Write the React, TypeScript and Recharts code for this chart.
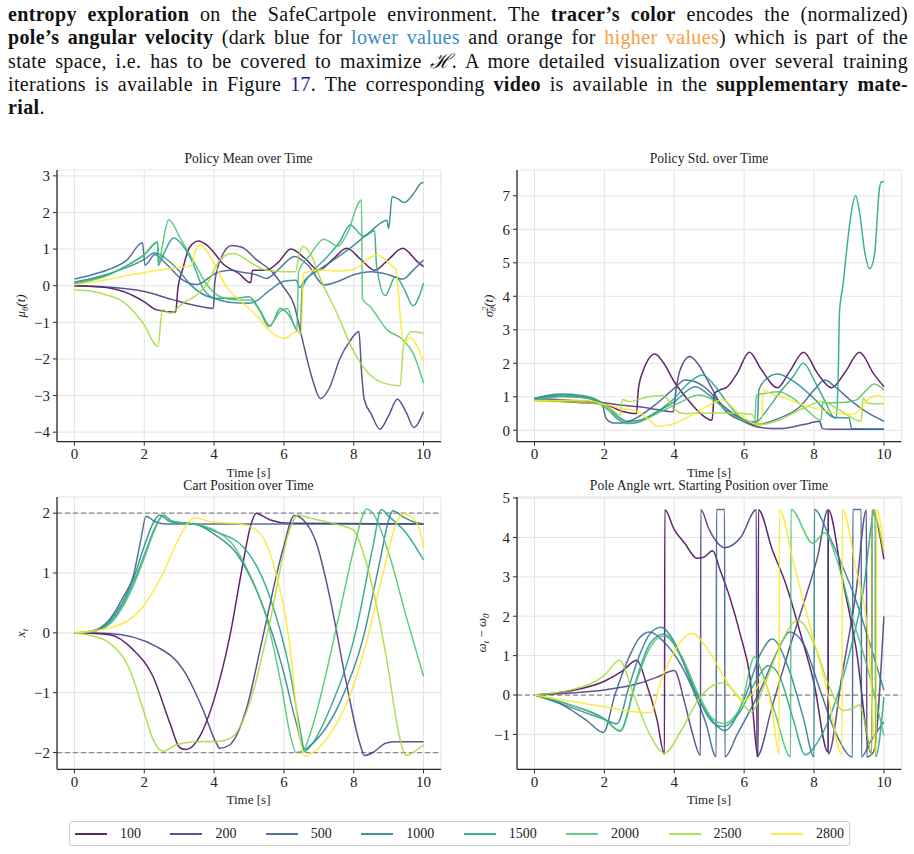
import React from 'react';
import { LineChart, Line, XAxis, YAxis, CartesianGrid, ReferenceLine } from 'recharts';

type Pt = [number, number];

const FONT = '"Liberation Serif", "DejaVu Serif", serif';

// training iterations shown as separate traces (viridis colour map)
const ITERATIONS = ['100', '200', '500', '1000', '1500', '2000', '2500', '2800'];
const COLORS = ['#440154', '#46327e', '#365c8d', '#277f8e', '#1fa187', '#4ac16d', '#a0da39', '#fde725'];

const TIME_TICKS = [0, 2, 4, 6, 8, 10];
const MEAN_TICKS = [-4, -3, -2, -1, 0, 1, 2, 3];
const STD_TICKS = [0, 1, 2, 3, 4, 5, 6, 7];
const CART_TICKS = [-2, -1, 0, 1, 2];
const ANGLE_TICKS = [-1, 0, 1, 2, 3, 4, 5];
const CART_LIMITS = [-2, 2];
const ANGLE_REF = [0];

// ---- policy mean mu_theta(t): [time s, value] ----
const MEAN_100: Pt[] = [[0,0],[0.5,-0.02],[1,-0.06],[1.4,-0.16],[2,-0.44],[2.35,-0.66],[2.9,-0.72],[2.96,-0.1],[3.1,0.45],[3.3,1.05],[3.55,1.22],[3.8,1.1],[4,0.9],[4.25,0.6],[4.7,0.34],[5.05,0.08],[5.1,0.42],[5.5,0.42],[5.85,0.65],[6.2,1.0],[6.6,0.75],[7,0.42],[7.4,0.72],[7.8,1.02],[8.2,0.72],[8.6,0.42],[9,0.72],[9.4,1.02],[9.8,0.68],[10,0.52]];
const MEAN_200: Pt[] = [[0,0],[1,-0.04],[2,-0.16],[2.8,-0.38],[3.5,-0.55],[3.98,-0.62],[4.02,0.1],[4.2,0.75],[4.5,1.1],[4.8,1.05],[5.2,0.72],[5.7,0.34],[6,-0.05],[6.3,-0.55],[6.5,-1.35],[6.8,-2.5],[7.05,-3.08],[7.3,-2.8],[7.6,-2.0],[7.9,-1.5],[8.15,-1.25],[8.22,-2.3],[8.3,-3.1],[8.5,-3.5],[8.75,-3.92],[9,-3.55],[9.25,-3.1],[9.5,-3.45],[9.72,-3.87],[10,-3.44]];
const MEAN_500: Pt[] = [[0,0.18],[0.5,0.3],[1,0.45],[1.5,0.7],[1.95,1.17],[2.02,0.56],[2.1,0.62],[2.3,0.85],[2.6,0.62],[3.1,0.16],[3.5,0.03],[4.05,0.34],[4.45,0.42],[4.85,0.36],[5.2,0.3],[5.5,0.2],[5.85,0.45],[6.3,0.8],[6.7,0.55],[7.15,0.02],[7.5,0.1],[8,0.3],[8.5,0.38],[9,0.3],[9.4,0.18],[9.7,0.42],[10,0.7]];
const MEAN_1000: Pt[] = [[0,0.1],[0.5,0.2],[1,0.33],[1.5,0.5],[2,0.72],[2.3,0.9],[2.6,0.75],[3,0.4],[3.3,0.05],[3.65,-0.22],[4.05,-0.36],[4.5,-0.46],[5,-0.48],[5.2,-0.42],[5.6,-0.12],[6,0.12],[6.35,0.15],[6.45,-0.05],[6.6,0.15],[7,0.43],[7.5,0.75],[8,1.1],[8.5,1.5],[8.95,1.79],[9,1.56],[9.1,2.43],[9.25,2.38],[9.45,2.27],[9.7,2.5],[9.95,2.81],[10,2.82]];
const MEAN_1500: Pt[] = [[0,0.08],[0.5,0.18],[1,0.32],[1.5,0.55],[2,0.85],[2.38,1.18],[2.4,0.55],[2.5,0.75],[2.85,1.3],[3.1,1.1],[3.4,0.6],[3.7,-0.1],[4.05,-0.34],[4.6,-0.34],[5,-0.3],[5.3,-0.65],[5.6,-1.1],[5.9,-0.62],[6.1,-0.75],[6.47,-1.3],[6.52,-0.1],[6.8,0.35],[7.2,0.75],[7.6,1.2],[7.9,1.66],[8.28,1.35],[8.6,1.5],[8.65,0.6],[8.9,-0.27],[9.2,0.25],[9.45,-0.1],[9.7,-0.55],[10,0.07]];
const MEAN_2000: Pt[] = [[0,0.05],[0.5,0.15],[1,0.3],[1.5,0.55],[2,0.85],[2.38,1.2],[2.42,0.6],[2.5,1.0],[2.7,1.8],[3.03,1.3],[3.42,0.65],[3.8,0.02],[4.18,-0.3],[4.66,-0.39],[5.04,-0.39],[5.32,-0.71],[5.56,-1.12],[5.9,-0.7],[6.09,-0.62],[6.37,-1.2],[6.42,0.38],[6.75,0.84],[7.14,1.27],[7.55,1.08],[7.8,1.4],[8.22,2.34],[8.25,-0.35],[8.5,-0.6],[8.95,-1.2],[9.4,-1.47],[9.7,-1.84],[10,-2.66]];
const MEAN_2500: Pt[] = [[0,-0.12],[0.5,-0.15],[0.9,-0.25],[1.4,-0.44],[1.97,-1.03],[2.39,-1.66],[2.52,-0.66],[2.75,-0.75],[3.1,-0.48],[3.5,-0.25],[3.87,0.16],[4.06,0.55],[4.4,0.86],[4.56,0.88],[5.1,0.6],[5.5,0.42],[6,0.38],[6.33,0.38],[6.45,0.9],[6.55,1.08],[6.8,0.8],[7.04,0.2],[7.5,-0.71],[8,-1.8],[8.38,-2.35],[8.86,-2.66],[9.33,-2.73],[9.43,-1.62],[9.67,-1.25],[10,-1.3]];
const MEAN_2800: Pt[] = [[0,0.02],[0.9,0.16],[1.87,0.34],[2.73,0.47],[3.35,0.55],[3.45,0.9],[3.59,1.11],[3.97,0.66],[4.35,-0.03],[4.73,-0.39],[5.2,-0.8],[5.5,-1.15],[6,-1.44],[6.38,-1.25],[6.5,-1.3],[6.56,0.34],[7.04,0.43],[7.6,0.4],[8,0.45],[8.67,0.84],[9.14,0.5],[9.2,0.45],[9.43,-1.57],[9.62,-1.42],[10,-2.08]];

// ---- policy variance sigma^2_theta(t) ----
const STD_100: Pt[] = [[0,0.9],[0.5,0.88],[1,0.85],[1.5,0.82],[2,0.78],[2.5,0.57],[2.92,0.5],[2.97,1.2],[3.1,1.75],[3.45,2.28],[3.7,2.0],[4,1.45],[4.4,0.9],[4.7,0.55],[5.08,0.3],[5.15,1.1],[5.3,1.2],[5.5,1.28],[5.8,1.7],[6.15,2.33],[6.5,1.8],[6.95,1.27],[7.3,1.75],[7.7,2.33],[8.1,1.7],[8.5,1.27],[8.9,1.75],[9.3,2.33],[9.7,1.7],[10,1.3]];
const STD_200: Pt[] = [[0,0.95],[0.5,0.93],[1,0.9],[1.5,0.87],[2,0.82],[2.5,0.75],[3,0.7],[3.5,0.62],[3.97,0.55],[4.05,1.2],[4.15,1.75],[4.45,2.2],[4.7,1.95],[5.02,1.36],[5.4,0.66],[5.97,0.27],[6.5,0.08],[7,0.05],[7.7,0.17],[8.16,0.27],[8.24,0.05],[8.5,0.03],[10,0.03]];
const STD_500: Pt[] = [[0,0.95],[0.4,1.0],[0.8,1.02],[1.3,1.0],[1.7,0.9],[1.95,0.72],[2.05,0.35],[2.25,0.22],[2.5,0.22],[3,0.42],[3.5,0.8],[4,1.25],[4.31,1.5],[4.6,1.45],[4.84,1.31],[5.41,0.72],[5.98,0.32],[6.36,0.17],[6.9,0.32],[7.6,0.71],[8,1.2],[8.31,1.5],[8.6,1.3],[9.03,0.91],[9.5,0.55],[10,0.27]];
const STD_1000: Pt[] = [[0,0.95],[0.4,1.05],[0.8,1.08],[1.3,1.05],[1.7,0.95],[2.1,0.7],[2.4,0.4],[2.65,0.27],[3,0.3],[3.5,0.55],[4,0.85],[4.6,1.3],[5,1.05],[5.5,0.6],[6,0.3],[6.38,0.25],[6.42,1.2],[6.6,1.5],[6.95,1.68],[7.5,1.4],[8,0.95],[8.6,0.38],[9,0.37],[9.08,0.05],[9.5,0.04],[10,0.04]];
const STD_1500: Pt[] = [[0,0.95],[0.4,1.03],[0.8,1.05],[1.3,1.02],[1.7,0.92],[2.1,0.62],[2.4,0.32],[2.7,0.2],[3,0.25],[3.5,0.55],[4,0.95],[4.4,1.4],[4.8,1.65],[5.1,1.4],[5.5,0.85],[6,0.3],[6.3,0.22],[6.65,0.6],[7,1.1],[7.4,1.6],[7.7,2.0],[8,1.5],[8.3,0.9],[8.6,0.37],[8.64,0.37],[8.69,1.56],[8.73,3.55],[8.83,4.34],[8.92,5.24],[9.07,6.53],[9.19,7.0],[9.3,6.53],[9.45,5.33],[9.59,4.82],[9.73,5.24],[9.87,7.2],[9.92,7.42],[10,7.42]];
const STD_2000: Pt[] = [[0,0.92],[0.4,0.98],[0.8,1.0],[1.3,0.98],[1.7,0.9],[2.1,0.62],[2.4,0.38],[2.7,0.22],[3.2,0.35],[3.7,0.6],[4.2,0.85],[4.7,1.05],[5.2,0.85],[5.6,0.5],[6,0.28],[6.3,0.22],[6.35,1.05],[6.6,1.1],[7,1.15],[7.4,0.95],[7.8,0.6],[8.2,0.3],[8.25,0.82],[8.8,0.83],[9.2,0.9],[9.5,1.2],[9.72,1.38],[10,1.2]];
const STD_2500: Pt[] = [[0,0.88],[0.5,0.86],[1,0.85],[1.5,0.82],[2,0.75],[2.3,0.55],[2.45,0.45],[2.52,0.92],[2.7,0.86],[3.3,1.01],[3.7,1.04],[3.97,0.66],[4.3,0.5],[4.83,0.52],[5.5,0.52],[6.2,0.48],[6.45,0.17],[6.92,0.27],[7.69,0.66],[8.25,0.86],[8.64,0.66],[9.35,0.27],[9.4,0.96],[9.54,0.81],[10,0.79]];
const STD_2800: Pt[] = [[0,0.88],[1,0.9],[1.5,0.88],[2,0.78],[2.5,0.65],[2.92,0.57],[3.3,0.3],[3.5,0.12],[3.9,0.17],[4.4,0.4],[4.83,0.66],[5.4,0.91],[5.78,0.57],[6.35,0.17],[6.5,0.14],[6.54,1.21],[6.73,1.11],[7.2,0.95],[7.69,0.76],[8.64,0.52],[9.11,0.47],[9.59,0.96],[9.83,1.04],[10,0.99]];

// ---- cart position x_t ----
const CART_100: Pt[] = [[0,0],[1,-0.03],[1.68,-0.28],[2.25,-0.73],[2.73,-1.5],[3.02,-1.92],[3.2,-1.95],[3.59,-1.73],[3.97,-1.17],[4.45,-0.06],[4.83,1.17],[5.05,1.8],[5.21,2.0],[5.4,1.95],[5.59,1.89],[6.16,1.83],[10,1.82]];
const CART_200: Pt[] = [[0,0],[1,-0.01],[2.35,-0.23],[3.11,-0.61],[3.68,-1.28],[4.06,-1.84],[4.16,-1.93],[4.45,-1.87],[4.92,-1.28],[5.4,-0.06],[5.97,1.39],[6.3,1.96],[6.55,1.89],[6.93,1.5],[7.31,0.61],[7.79,-0.84],[8.17,-1.84],[8.31,-2.05],[8.55,-2.0],[8.93,-1.84],[9.22,-1.82],[10,-1.82]];
const CART_500: Pt[] = [[0,0],[0.5,0.03],[1,0.22],[1.4,0.6],[1.68,0.94],[1.9,1.55],[2.05,1.95],[2.3,1.86],[2.6,1.82],[10,1.82]];
const CART_1000: Pt[] = [[0,0],[0.5,0.02],[1,0.19],[1.68,0.89],[2,1.45],[2.25,1.83],[2.44,1.97],[2.73,1.86],[3.49,1.81],[4,1.65],[4.64,1.33],[5.4,0.44],[5.97,-0.61],[6.35,-1.5],[6.59,-1.95],[6.74,-1.89],[7.6,-1.17],[8.26,-0.11],[8.74,1.17],[9.03,1.94],[9.12,2.04],[9.41,1.94],[9.69,1.86],[10,1.82]];
const CART_1500: Pt[] = [[0,0],[0.5,0.02],[1,0.16],[1.68,0.82],[2,1.3],[2.3,1.75],[2.54,1.97],[2.8,1.86],[3.5,1.81],[4,1.7],[4.83,1.44],[5.59,0.61],[6.16,-0.61],[6.5,-1.73],[6.59,-1.98],[6.75,-1.9],[7.31,-1.28],[8.07,0.05],[8.55,1.44],[8.79,2.06],[9,1.95],[9.5,1.67],[10,1.22]];
const CART_2000: Pt[] = [[0,0],[0.5,0.02],[1,0.14],[1.68,0.78],[2,1.25],[2.3,1.72],[2.54,1.96],[2.8,1.87],[3.5,1.81],[4,1.72],[4.5,1.5],[5,1.0],[5.5,0.25],[5.9,-0.8],[6.2,-1.75],[6.35,-2.0],[6.55,-1.97],[6.8,-1.6],[7.2,-0.7],[7.6,0.35],[8,1.4],[8.25,1.95],[8.36,2.07],[8.55,2.0],[9.03,1.28],[9.5,0.28],[10,-0.73]];
const CART_2500: Pt[] = [[0,0],[0.5,-0.05],[1,-0.17],[1.58,-0.61],[1.97,-1.28],[2.25,-1.78],[2.54,-1.98],[2.92,-1.87],[3.49,-1.82],[4.16,-1.81],[4.54,-1.73],[5.02,-1.17],[5.59,0.16],[6.16,1.72],[6.4,1.97],[6.74,1.92],[7.6,1.8],[7.98,1.72],[8.36,1.17],[8.93,-0.39],[9.31,-1.73],[9.49,-2.05],[9.69,-2.0],[10,-1.87]];
const CART_2800: Pt[] = [[0,0],[1,0.08],[1.97,0.44],[2.54,1.0],[3.02,1.61],[3.35,1.9],[3.49,1.92],[3.87,1.86],[4.83,1.81],[5.3,1.67],[5.69,1.17],[6.16,-0.17],[6.45,-1.73],[6.6,-2.06],[6.83,-2.0],[7.4,-1.62],[7.88,-1.06],[8.36,-0.17],[8.84,1.0],[9.22,1.83],[9.41,1.99],[9.69,1.92],[9.89,1.72],[10,1.42]];

// ---- pole angle relative to start, wrapped to [-pi/2, 3pi/2] ----
const ANGLE_100: Pt[] = [[0,0],[1,0.1],[2,0.35],[2.5,0.6],[2.93,0.88],[3.2,0.3],[3.5,-0.6],[3.72,-1.5],[3.73,4.7],[4,4.2],[4.3,3.85],[4.65,3.47],[4.85,3.5],[5.1,3.66],[5.3,3.2],[5.6,2.45],[5.9,1.5],[6.16,0.5],[6.4,-1.55],[6.41,4.7],[6.8,3.7],[7.2,2.8],[7.6,1.6],[8,0.3],[8.4,-1.45],[8.41,4.7],[8.8,3.0],[9.2,1.2],[9.65,-1.5],[9.66,4.7],[10,3.45]];
const ANGLE_200: Pt[] = [[0,0],[1,0.05],[2,0.13],[3,0.3],[3.5,0.45],[4,0.62],[4.3,-0.2],[4.5,-0.9],[4.75,-1.53],[4.76,4.7],[5,4.2],[5.45,3.74],[5.9,4.0],[6.35,4.7],[6.36,-1.57],[6.8,-0.3],[7.3,1.2],[7.8,2.6],[8.1,3.5],[8.4,4.7],[8.41,-1.5],[8.8,0.5],[9.2,2.6],[9.5,4.7],[9.51,-1.57],[9.7,-1.45],[10,2.0]];
const ANGLE_500: Pt[] = [[0,0],[0.5,-0.12],[1,-0.35],[1.5,-0.65],[1.97,-0.95],[2.3,0.0],[2.7,0.95],[3,1.45],[3.3,1.6],[3.7,1.35],[4.2,0.75],[4.6,0.0],[4.9,-0.7],[5.2,-1.57],[5.21,4.71],[5.44,4.71],[5.45,-1.57],[5.8,-1.0],[6.45,0.1],[7,1.2],[7.3,1.6],[7.7,1.3],[8.16,0.16],[8.64,-1.0],[9.1,-1.57],[9.11,4.71],[9.35,4.71],[9.36,-1.57],[9.6,-1.2],[10,-0.68]];
const ANGLE_1000: Pt[] = [[0,0],[1,-0.3],[2,-0.62],[2.36,-0.73],[2.7,0.2],[3,1.0],[3.3,1.55],[3.62,1.72],[4,1.35],[4.5,0.3],[5,-0.55],[5.45,-0.9],[6,-0.1],[6.5,1.1],[6.8,1.42],[7.3,0.6],[7.7,-0.6],[8,-1.57],[8.01,4.71],[8.4,4.1],[8.8,3.3],[9.2,2.4],[9.6,1.3],[10,0.12]];
const ANGLE_1500: Pt[] = [[0,0],[1,-0.25],[2,-0.6],[2.45,-0.92],[2.9,0.35],[3.3,1.3],[3.7,1.55],[4.2,0.95],[4.7,-0.1],[5.1,-0.7],[5.4,-0.8],[5.9,-0.4],[6.3,0.3],[6.7,0.75],[7,0.5],[7.4,-0.6],[7.75,-1.52],[8.1,-1.2],[8.6,-0.2],[9,1.0],[9.4,2.6],[9.75,4.7],[9.76,-1.57],[10,-0.05]];
const ANGLE_2000: Pt[] = [[0,0],[1,-0.24],[2,-0.62],[2.45,-0.9],[2.9,0.3],[3.3,1.2],[3.7,1.5],[4.2,1.0],[4.7,0.0],[5.1,-0.6],[5.4,-0.72],[5.9,-0.3],[6.3,0.97],[6.5,0.6],[6.9,-0.5],[7.33,-1.57],[7.34,4.71],[7.97,3.85],[8.3,4.12],[8.64,3.47],[9.11,1.94],[9.59,0.5],[10,-1.03]];
const ANGLE_2500: Pt[] = [[0,0],[1,0.12],[2,0.5],[2.43,0.88],[2.84,0.0],[3.3,-1.0],[3.72,-1.47],[4.2,-0.9],[4.7,-0.1],[5.4,0.31],[5.8,0.0],[6.2,-0.43],[6.6,0.3],[7,1.2],[7.54,1.9],[8,1.3],[8.4,0.3],[8.83,-0.39],[9.1,-0.35],[9.3,-0.25],[9.5,-0.9],[9.65,-1.55],[9.66,4.71],[10,3.6]];
const ANGLE_2800: Pt[] = [[0,0],[1,-0.15],[2,-0.3],[2.8,-0.42],[3.33,-0.45],[3.6,0.3],[4,1.1],[4.5,1.57],[5,1.1],[5.5,0.35],[6,-0.15],[6.3,0.1],[6.55,0.4],[6.8,-0.4],[7,-1.5],[7.01,4.71],[7.4,3.4],[7.9,1.7],[8.35,0.2],[8.8,-1.5],[8.81,4.71],[9.2,3.2],[9.55,1.5],[9.78,-1.5],[9.79,4.71],[10,3.75]];

const MEAN = [MEAN_100, MEAN_200, MEAN_500, MEAN_1000, MEAN_1500, MEAN_2000, MEAN_2500, MEAN_2800];
const STD = [STD_100, STD_200, STD_500, STD_1000, STD_1500, STD_2000, STD_2500, STD_2800];
const CART = [CART_100, CART_200, CART_500, CART_1000, CART_1500, CART_2000, CART_2500, CART_2800];
const ANGLE = [ANGLE_100, ANGLE_200, ANGLE_500, ANGLE_1000, ANGLE_1500, ANGLE_2000, ANGLE_2500, ANGLE_2800];

const fmt = (v: number) => String(v).replace('-', '\u2212');
const FRAME = '#2b2b2b';
const tickStyle = { fill: '#222', fontSize: 15, fontFamily: FONT };

type PanelProps = {
  x: number; y: number; w: number; h: number;
  series: Pt[][];
  yDomain: [number, number];
  yTicks: number[];
  dashed?: number[];
};

function Panel({ x, y, w, h, series, yDomain, yTicks, dashed = [] }: PanelProps) {
  const PADL = 60, PADT = 10, PADR = 10, PADB = 40;
  return (
    <div style={{ position: 'absolute', left: x - PADL, top: y - PADT }}>
      <LineChart width={w + PADL + PADR} height={h + PADT + PADB} margin={{ top: PADT, right: PADR, bottom: 0, left: 0 }}>
        <CartesianGrid stroke="#e4e4e4" strokeWidth={1} />
        <XAxis dataKey="t" type="number" domain={[-0.5, 10.5]} ticks={TIME_TICKS} allowDataOverflow height={PADB}
          tickSize={4} tickMargin={3} axisLine={{ stroke: FRAME, strokeWidth: 1.3 }} tickLine={{ stroke: FRAME }}
          tick={tickStyle} tickFormatter={fmt} />
        <XAxis xAxisId="top" orientation="top" type="number" domain={[-0.5, 10.5]} height={0} tick={false} tickLine={false}
          axisLine={{ stroke: FRAME, strokeWidth: 1.3 }} />
        <YAxis type="number" domain={yDomain} ticks={yTicks} allowDataOverflow width={PADL}
          tickSize={4} tickMargin={3} axisLine={{ stroke: FRAME, strokeWidth: 1.3 }} tickLine={{ stroke: FRAME }}
          tick={tickStyle} tickFormatter={fmt} />
        <YAxis yAxisId="right" orientation="right" type="number" domain={yDomain} width={0} tick={false} tickLine={false}
          axisLine={{ stroke: FRAME, strokeWidth: 1.3 }} />
        {dashed.map((d) => (
          <ReferenceLine key={d} y={d} stroke="#8a8a8a" strokeWidth={1.2} strokeDasharray="5 3" />
        ))}
        {series.map((s, i) => (
          <Line key={ITERATIONS[i]} name={ITERATIONS[i]} data={s.map(([t, v]) => ({ t, v }))} dataKey="v"
            type="monotone" stroke={COLORS[i]} strokeWidth={1.5} strokeOpacity={0.85} dot={false} activeDot={false}
            isAnimationActive={false} />
        ))}
      </LineChart>
    </div>
  );
}

const textAbs = (left: number, top: number, size: number): React.CSSProperties => ({
  position: 'absolute', left, top, transform: 'translate(-50%, -50%)', fontFamily: FONT, fontSize: size,
  color: '#222', whiteSpace: 'nowrap', lineHeight: 1,
});

const yLabel = (left: number, top: number): React.CSSProperties => ({
  ...textAbs(left, top, 13), transform: 'translate(-50%, -50%) rotate(-90deg)', fontStyle: 'italic',
});

const line: React.CSSProperties = { textAlign: 'justify', textAlignLast: 'justify', whiteSpace: 'normal' };

export default function App() {
  return (
    <div style={{ position: 'absolute', left: 0, top: 0, width: 914, height: 854, background: '#fff', overflow: 'hidden' }}>
      <div style={{ position: 'absolute', left: 8, top: 3, width: 900, fontFamily: FONT, fontSize: 20, letterSpacing: '0.35px', lineHeight: '23.3px', color: '#111' }}>
        <div style={line}><b>entropy exploration</b> on the SafeCartpole environment. The <b>tracer’s color</b> encodes the (normalized)</div>
        <div style={line}><b>pole’s angular velocity</b> (dark blue for <span style={{ color: '#3d8ac4' }}>lower values</span> and orange for <span style={{ color: '#f7a044' }}>higher values</span>) which is part of the</div>
        <div style={line}>state space, i.e. has to be covered to maximize <i>ℋ</i>. A more detailed visualization over several training</div>
        <div style={line}>iterations is available in Figure <span style={{ color: '#1c1c8a' }}>17</span>. The corresponding <b>video</b> is available in the <b>supplementary mate-</b></div>
        <div><b>rial</b>.</div>
      </div>

      <Panel x={56.7} y={170} w={384} h={271.7} series={MEAN} yDomain={[-4.26, 3.16]} yTicks={MEAN_TICKS} />
      <Panel x={517.3} y={170} w={384.4} h={271.7} series={STD} yDomain={[-0.34, 7.77]} yTicks={STD_TICKS} />
      <Panel x={56.7} y={496.7} w={384} h={272.3} series={CART} yDomain={[-2.28, 2.27]} yTicks={CART_TICKS} dashed={CART_LIMITS} />
      <Panel x={517.3} y={496.7} w={384.4} h={272.3} series={ANGLE} yDomain={[-1.885, 5.026]} yTicks={ANGLE_TICKS} dashed={ANGLE_REF} />

      <div style={textAbs(248.5, 159, 13.6)}>Policy Mean over Time</div>
      <div style={textAbs(709, 159, 13.6)}>Policy Std. over Time</div>
      <div style={textAbs(248.5, 486, 13.6)}>Cart Position over Time</div>
      <div style={textAbs(709, 486, 13.6)}>Pole Angle wrt. Starting Position over Time</div>

      <div style={textAbs(248.5, 472, 13)}>Time [s]</div>
      <div style={textAbs(709, 472, 13)}>Time [s]</div>
      <div style={textAbs(248.5, 799, 13)}>Time [s]</div>
      <div style={textAbs(709, 799, 13)}>Time [s]</div>

      <div style={yLabel(22, 306)}>μ<sub style={{ fontSize: 9 }}>θ</sub>(t)</div>
      <div style={yLabel(490, 306)}>σ<span style={{ display: 'inline-flex', flexDirection: 'column', fontSize: 8, lineHeight: '8px', verticalAlign: 'middle' }}><span>2</span><span>θ</span></span>(t)</div>
      <div style={yLabel(22, 633)}>x<sub style={{ fontSize: 9 }}>t</sub></div>
      <div style={yLabel(483, 633)}>ω<sub style={{ fontSize: 9 }}>t</sub> <span style={{ fontStyle: 'normal' }}>−</span> ω<sub style={{ fontSize: 9 }}>0</sub></div>

      <div style={{ position: 'absolute', left: 69, top: 821, width: 781, height: 25, boxSizing: 'border-box', border: '1px solid #cfcfcf', borderRadius: 3, display: 'flex', alignItems: 'center', justifyContent: 'space-between', padding: '0 5px' }}>
        {ITERATIONS.map((name, i) => (
          <div key={name} style={{ display: 'flex', alignItems: 'center' }}>
            <span style={{ display: 'inline-block', width: 32, height: 2, background: COLORS[i], opacity: 0.85 }} />
            <span style={{ marginLeft: 13, fontFamily: FONT, fontSize: 14, color: '#222' }}>{name}</span>
          </div>
        ))}
      </div>
    </div>
  );
}
